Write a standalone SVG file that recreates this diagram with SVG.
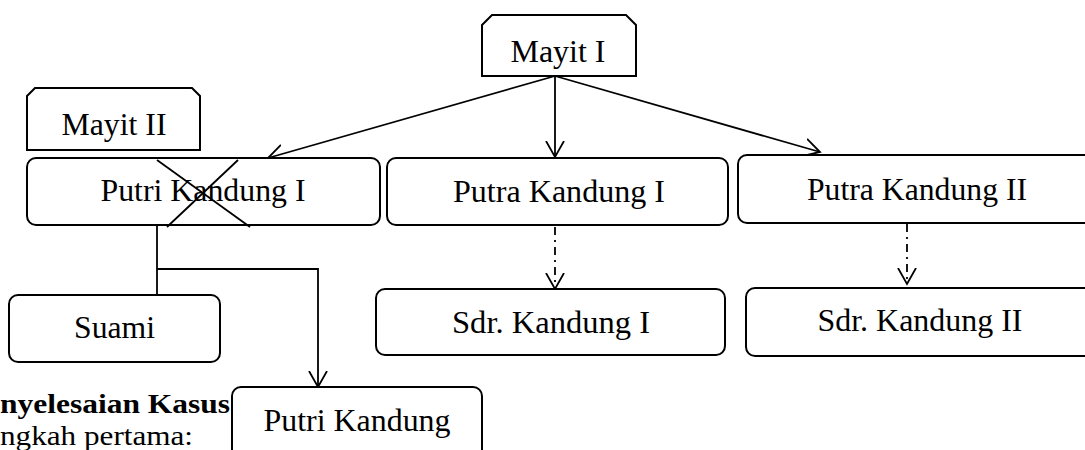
<svg xmlns="http://www.w3.org/2000/svg" width="1085" height="450" viewBox="0 0 1085 450">
<style>
.box{fill:#fff;stroke:#000;stroke-width:2}
.lbl{font-family:"Liberation Serif","Times New Roman",serif;font-size:32px;fill:#000;text-anchor:middle}
.plain{font-family:"Liberation Serif","Times New Roman",serif;font-size:27px;fill:#000}
.con{fill:none;stroke:#000;stroke-width:1.8}
.dash{stroke-dasharray:8 5 2 5}
.cross{stroke:#000;stroke-width:1.8}
</style>
<defs>
<marker id="arr" markerWidth="20" markerHeight="22" refX="16" refY="10" orient="auto" markerUnits="userSpaceOnUse">
<path d="M0,1 L16,10 L0,19" fill="none" stroke="#000" stroke-width="1.8"/>
</marker>
</defs>
<rect width="1085" height="450" fill="#fff"/>
<g id="text-penyelesaian">
<text class="plain" x="0" y="413" font-weight="bold" textLength="230" lengthAdjust="spacingAndGlyphs">nyelesaian Kasus</text>
<text class="plain" x="0" y="445" textLength="193" lengthAdjust="spacingAndGlyphs">ngkah pertama:</text>
</g>
<g id="connectors">
<line class="con" x1="555" y1="76" x2="268" y2="158" marker-end="url(#arr)"/>
<line class="con" x1="555" y1="76" x2="555" y2="157" marker-end="url(#arr)"/>
<line class="con" x1="555" y1="76" x2="820" y2="152" marker-end="url(#arr)"/>
<line class="con dash" x1="555" y1="227" x2="555" y2="289" marker-end="url(#arr)"/>
<line class="con dash" x1="907" y1="224" x2="907" y2="284" marker-end="url(#arr)"/>
<line class="con" x1="157" y1="225" x2="157" y2="295"/>
<polyline class="con" points="157,269 318,269 318,387" marker-end="url(#arr)"/>
</g>
<g id="node-mayit1">
<polygon class="box" points="482,25 492,15 626,15 636,25 636,76 482,76"/>
<text class="lbl" x="558" y="62" textLength="95" lengthAdjust="spacingAndGlyphs">Mayit I</text>
</g>
<g id="node-mayit2">
<polygon class="box" points="27,96 35,88 192,88 200,96 200,150 27,150"/>
<text class="lbl" x="114" y="135" textLength="105" lengthAdjust="spacingAndGlyphs">Mayit II</text>
</g>
<g id="node-putri-kandung-1">
<rect class="box" x="27" y="158" width="353" height="67" rx="9"/>
<text class="lbl" x="203" y="201" textLength="205" lengthAdjust="spacingAndGlyphs">Putri Kandung I</text>
<line class="cross" x1="157" y1="160" x2="250" y2="227"/>
<line class="cross" x1="238" y1="160" x2="167" y2="227"/>
</g>
<g id="node-putra-kandung-1">
<rect class="box" x="387" y="158" width="341" height="67" rx="9"/>
<text class="lbl" x="559" y="202" textLength="212" lengthAdjust="spacingAndGlyphs">Putra Kandung I</text>
</g>
<g id="node-putra-kandung-2">
<rect class="box" x="738" y="155" width="360" height="68" rx="9"/>
<text class="lbl" x="917" y="200" textLength="220" lengthAdjust="spacingAndGlyphs">Putra Kandung II</text>
</g>
<g id="node-sdr-kandung-1">
<rect class="box" x="376" y="289" width="349" height="66" rx="9"/>
<text class="lbl" x="551" y="333" textLength="198" lengthAdjust="spacingAndGlyphs">Sdr. Kandung I</text>
</g>
<g id="node-sdr-kandung-2">
<rect class="box" x="746" y="288" width="352" height="68" rx="9"/>
<text class="lbl" x="920" y="331" textLength="205" lengthAdjust="spacingAndGlyphs">Sdr. Kandung II</text>
</g>
<g id="node-suami">
<rect class="box" x="9" y="295" width="211" height="67" rx="9"/>
<text class="lbl" x="114.5" y="338" textLength="81" lengthAdjust="spacingAndGlyphs">Suami</text>
</g>
<g id="node-putri-kandung">
<rect class="box" x="232" y="387" width="250" height="80" rx="9"/>
<text class="lbl" x="357" y="431" textLength="187" lengthAdjust="spacingAndGlyphs">Putri Kandung</text>
</g>
</svg>
